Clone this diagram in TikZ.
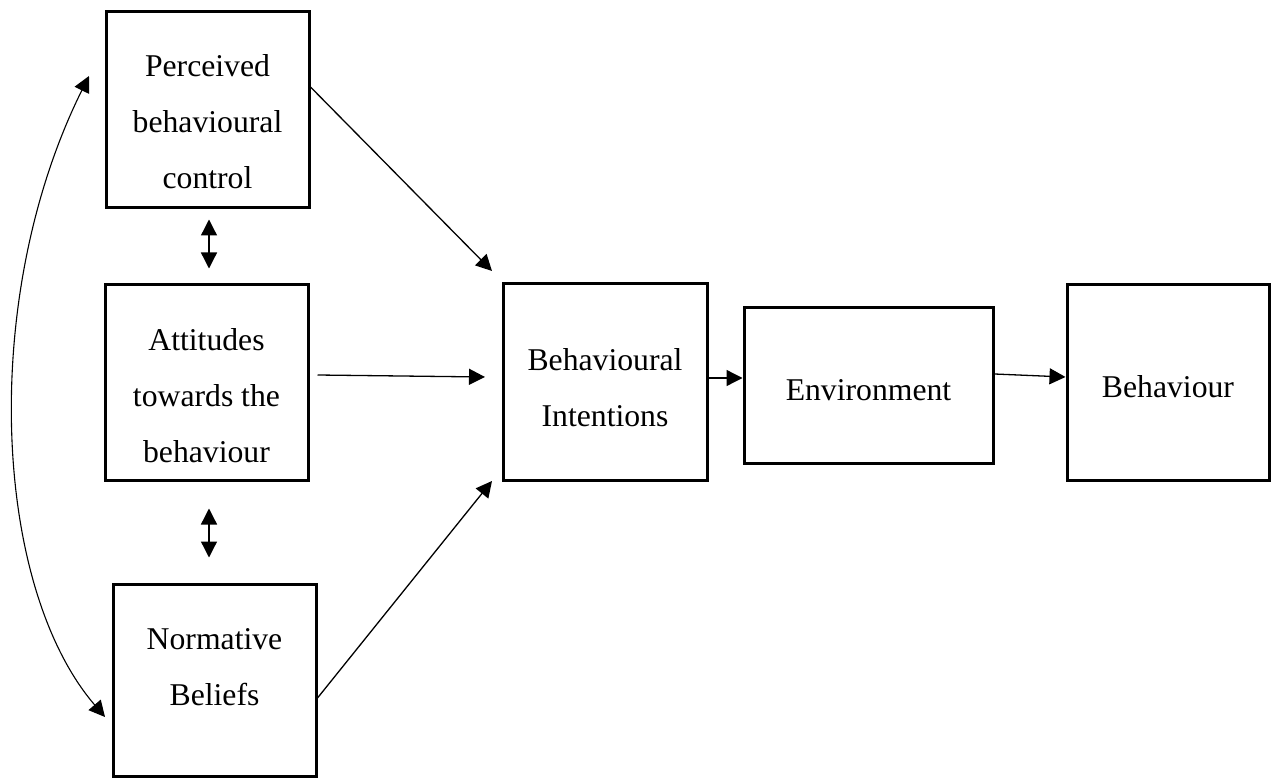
\documentclass[tikz,border=0pt]{standalone}
\usepackage{fontspec}
\setmainfont{Liberation Serif}
\usetikzlibrary{arrows.meta}
% centred block of lines whose reference point is the first baseline
\newcommand{\stacklines}[1]{\parbox[t]{200pt}{\centering #1}}

\begin{document}
\begin{tikzpicture}[x=1pt,y=-1pt,
  box/.style={draw, line width=3pt, inner sep=0pt},
  label/.style={inner sep=0pt, anchor=base, font=\fontsize{31.7}{56}\selectfont},
  arr/.style={-{Triangle[length=16pt,width=16pt]}, line width=1.3pt},
  dbl/.style={{Triangle[length=16pt,width=16pt]}-{Triangle[length=16pt,width=16pt]}, line width=1.3pt}]

\useasboundingbox (0,0) rectangle (1272,778);

% boxes
\node[box, minimum width=203pt, minimum height=196pt] (pbc) at (207.5,110) {};
\node[label] (pbct) at (207.5,77) {\stacklines{Perceived\\behavioural\\control}};

\node[box, minimum width=203pt, minimum height=196pt] (att) at (206.5,382) {};
\node[label] (attt) at (206.5,350) {\stacklines{Attitudes\\towards the\\behaviour}};

\node[box, minimum width=203pt, minimum height=192pt] (norm) at (214.5,680) {};
\node[label] (normt) at (214.5,649) {\stacklines{Normative\\Beliefs}};

\node[box, minimum width=204pt, minimum height=197pt] (bi) at (605,381.5) {};
\node[label] (bit) at (605,370) {\stacklines{Behavioural\\Intentions}};

\node[box, minimum width=249pt, minimum height=156pt] (env) at (868.5,385) {};
\node[label] (envt) at (868.5,400) {Environment};

\node[box, minimum width=202pt, minimum height=196pt] (beh) at (1168,382) {};
\node[label] (beht) at (1168,397) {Behaviour};

% free ends of the arrows into the intentions box
\coordinate (pbcin) at (492,271);
\coordinate (attin) at (485,377);
\coordinate (normin) at (492,481);
\path ([yshift=7pt]env.west) coordinate (envin);

% arrows
\draw[arr] ([yshift=23pt]pbc.east) -- (pbcin);
\draw[arr] ([xshift=8pt,yshift=7pt]att.east) -- (attin);
\draw[arr] ([yshift=-18pt]norm.east) -- (normin);
\draw[arr] (envin -| bi.east) -- (envin);
\draw[arr] ([yshift=11pt]env.east) -- ([yshift=5pt]beh.west);

% correlations between the three antecedents
\draw[dbl] ([xshift=1.5pt,yshift=-10pt]pbc.south) -- ([xshift=2.5pt,yshift=14pt]att.north);
\draw[dbl] ([xshift=2.5pt,yshift=-27pt]att.south) -- ([xshift=-5.5pt,yshift=25pt]norm.north);
\coordinate (ctop) at (89,76);
\coordinate (cbot) at (105,717);
\draw[dbl, line width=1.1pt] (ctop) .. controls (-20,295) and (-8,585) .. (cbot);
\end{tikzpicture}
\end{document}
